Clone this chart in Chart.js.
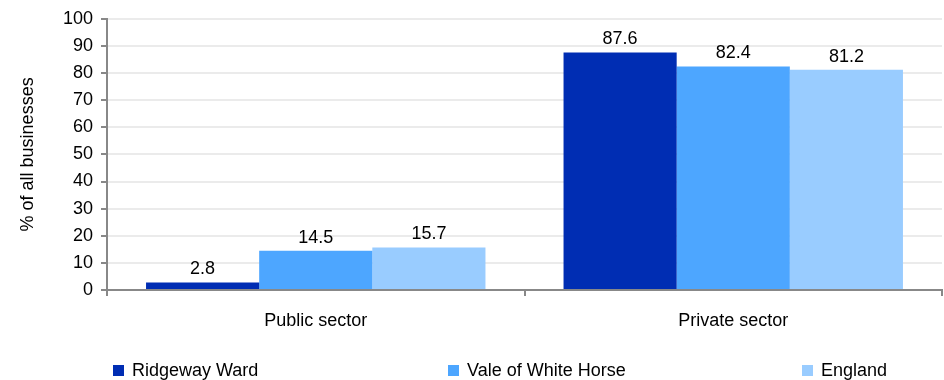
<!DOCTYPE html>
<html>
<head>
<meta charset="utf-8">
<script src="https://cdn.jsdelivr.net/npm/chart.js@4/dist/chart.umd.min.js"></script>
<style>
  html, body { margin: 0; padding: 0; background: #fff; }
  #wrap { width: 944px; height: 380px; position: relative; }
</style>
</head>
<body>
<div id="wrap"><canvas id="chart"></canvas></div>
<script>
  const categories = ['Public sector', 'Private sector'];
  const seriesNames = ['Ridgeway Ward', 'Vale of White Horse', 'England'];
  const ridgeway = [2.8, 87.6];
  const vale = [14.5, 82.4];
  const england = [15.7, 81.2];
  const yTicks = [0, 10, 20, 30, 40, 50, 60, 70, 80, 90, 100];

  const colors = ['#002DB3', '#4DA6FF', '#99CCFF'];
  const FONT = '"Liberation Sans", Arial, sans-serif';
  const FS = 18;

  // value labels above each bar
  const valueLabels = {
    id: 'valueLabels',
    afterDatasetsDraw(chart) {
      const ctx = chart.ctx;
      ctx.save();
      ctx.font = FS + 'px ' + FONT;
      ctx.fillStyle = '#000';
      ctx.textAlign = 'center';
      ctx.textBaseline = 'bottom';
      chart.data.datasets.forEach((ds, i) => {
        chart.getDatasetMeta(i).data.forEach((bar, j) => {
          ctx.fillText(ds.data[j].toFixed(1), bar.x, bar.y - 4);
        });
      });
      ctx.restore();
    },
  };

  // spread-out legend along the bottom
  const legendX = [113, 448, 802];
  const bottomLegend = {
    id: 'bottomLegend',
    afterDraw(chart) {
      const ctx = chart.ctx;
      const y = 370;
      ctx.save();
      ctx.font = FS + 'px ' + FONT;
      ctx.textBaseline = 'middle';
      ctx.textAlign = 'left';
      chart.data.datasets.forEach((ds, i) => {
        ctx.fillStyle = ds.backgroundColor;
        ctx.fillRect(legendX[i], y - 5, 11, 11);
        ctx.fillStyle = '#000';
        ctx.fillText(ds.label, legendX[i] + 19, y + 1);
      });
      ctx.restore();
    },
  };

  new Chart(document.getElementById('chart'), {
    type: 'bar',
    data: {
      labels: categories,
      datasets: [
        { label: seriesNames[0], data: ridgeway, backgroundColor: colors[0] },
        { label: seriesNames[1], data: vale, backgroundColor: colors[1] },
        { label: seriesNames[2], data: england, backgroundColor: colors[2] },
      ],
    },
    options: {
      responsive: true,
      maintainAspectRatio: false,
      animation: false,
      layout: { padding: { top: 17, right: 2, left: 0, bottom: 45 } },
      datasets: { bar: { categoryPercentage: 0.813, barPercentage: 1 } },
      plugins: {
        legend: { display: false },
        tooltip: { enabled: false },
      },
      scales: {
        x: {
          grid: { display: true, drawOnChartArea: false, color: '#888', tickLength: 6, lineWidth: 2 },
          border: { color: '#888', width: 2 },
          ticks: { color: '#000', font: { family: FONT, size: FS }, padding: 14 },
          afterFit: (s) => { s.height = 45; },
        },
        y: {
          min: 0,
          max: 100,
          afterBuildTicks: (s) => { s.ticks = yTicks.map((v) => ({ value: v })); },
          grid: { color: '#ebebeb', tickColor: '#888', tickLength: 6, lineWidth: 2 },
          border: { color: '#888', width: 2 },
          ticks: { color: '#000', font: { family: FONT, size: FS }, padding: 8 },
          title: { display: true, text: '% of all businesses', color: '#000', font: { family: FONT, size: FS }, padding: { top: 17, bottom: 4 } },
          afterFit: (s) => { s.width = 107; },
        },
      },
    },
    plugins: [valueLabels, bottomLegend],
  });
</script>
</body>
</html>
